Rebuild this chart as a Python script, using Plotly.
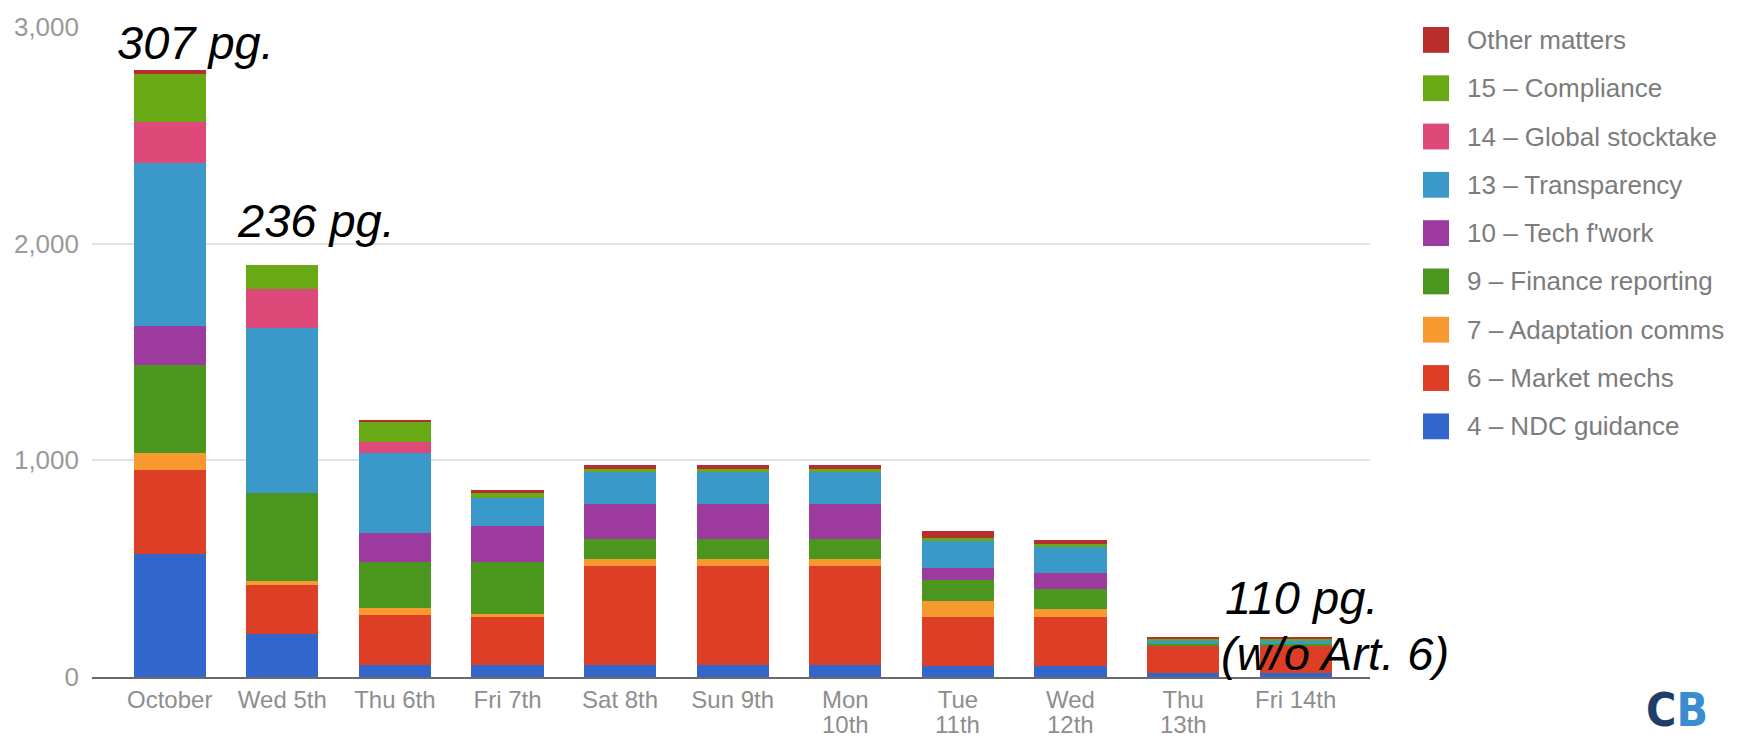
import plotly.graph_objects as go

# Draft-text pages per negotiating item, by day
days = ["October", "Wed 5th", "Thu 6th", "Fri 7th", "Sat 8th", "Sun 9th",
        "Mon 10th", "Tue 11th", "Wed 12th", "Thu 13th", "Fri 14th"]
tick_top = ["October", "Wed 5th", "Thu 6th", "Fri 7th", "Sat 8th", "Sun 9th",
            "Mon", "Tue", "Wed", "Thu", "Fri 14th"]
tick_bottom = ["", "", "", "", "", "", "10th", "11th", "12th", "13th", ""]
y_ticks = [0, 1000, 2000, 3000]

ndc_guidance = [566, 199, 54, 54, 54, 54, 54, 52, 52, 18, 18]
market_mechs = [389, 227, 231, 225, 459, 459, 459, 226, 226, 128, 128]
adaptation_comms = [80, 17, 33, 11, 32, 32, 32, 74, 37, 0, 0]
finance_reporting = [406, 408, 211, 240, 93, 93, 93, 94, 92, 8, 8]
tech_framework = [179, 0, 134, 166, 160, 160, 160, 59, 71, 0, 0]
transparency = [754, 762, 372, 130, 147, 147, 147, 123, 126, 12, 12]
global_stocktake = [186, 180, 49, 0, 0, 0, 0, 0, 0, 0, 0]
compliance = [221, 108, 91, 22, 13, 13, 13, 12, 8, 10, 10]
other_matters = [21, 0, 13, 17, 20, 20, 20, 32, 19, 7, 7]

series_names = ["4 – NDC guidance", "6 – Market mechs", "7 – Adaptation comms",
                "9 – Finance reporting", "10 – Tech f'work", "13 – Transparency",
                "14 – Global stocktake", "15 – Compliance", "Other matters"]
series_values = [ndc_guidance, market_mechs, adaptation_comms, finance_reporting,
                 tech_framework, transparency, global_stocktake, compliance, other_matters]
series_colors = ["#3366cc", "#dc3f26", "#f7992e", "#4b961e", "#9c3b9d",
                 "#3a99c9", "#dd4a7a", "#68a915", "#b82e2e"]

# Page-count callouts: (text, x position in category units, y value)
page_notes = [("307 pg.", -0.49, 2928),
              ("236 pg.", 0.58, 2107),
              ("110 pg.", 9.35, 369),
              ("(w/o Art. 6)", 9.32, 107)]

FONT = "Liberation Sans, Arial, Helvetica, sans-serif"
AXIS_GREY = "#8e8e8e"

fig = go.Figure()
for name, vals, col in zip(series_names, series_values, series_colors):
    fig.add_trace(go.Bar(x=days, y=vals, name=name, marker_color=col,
                         marker_line_width=0, showlegend=False))

# Plot area geometry (pixels) used for the hand-built legend
W, H = 1746, 739
ML, MR, MT, MB = 92, 376, 23, 62
PW, PH = W - ML - MR, H - MT - MB


def px_to_paper_x(px):
    return (px - ML) / PW


def px_to_paper_y(py):
    return (H - MB - py) / PH


annotations = []
shapes = []

# Legend: top entry is the last stacked series
for i, (name, col) in enumerate(zip(series_names[::-1], series_colors[::-1])):
    cy = 36 + 48.6 * i
    shapes.append(dict(type="rect", xref="paper", yref="paper",
                       x0=px_to_paper_x(1423), x1=px_to_paper_x(1449),
                       y0=px_to_paper_y(cy + 13), y1=px_to_paper_y(cy - 13),
                       fillcolor=col, line_width=0))
    annotations.append(dict(text=name, xref="paper", yref="paper",
                            x=px_to_paper_x(1465), y=px_to_paper_y(cy),
                            xanchor="left", yanchor="middle", showarrow=False,
                            font=dict(family=FONT, size=26, color="#7c7c7c")))

# Second line of the two-line day labels
for day, low in zip(days, tick_bottom):
    if low:
        annotations.append(dict(text=low, x=day, xref="x", yref="paper",
                                y=px_to_paper_y(725), yanchor="middle",
                                showarrow=False,
                                font=dict(family=FONT, size=24, color=AXIS_GREY)))

for text, xpos, yval in page_notes:
    annotations.append(dict(text="<i>" + text + "</i>", x=xpos, y=yval,
                            xref="x", yref="y", xanchor="left", yanchor="middle",
                            align="left", showarrow=False,
                            font=dict(family=FONT, size=47, color="#000000")))

# CB logo
annotations.append(dict(
    text="<b><span style='color:#1f3d66'>C</span><span style='color:#3a8dd0'>B</span></b>",
    xref="paper", yref="paper", x=px_to_paper_x(1677), y=px_to_paper_y(710),
    xanchor="center", yanchor="middle", showarrow=False,
    font=dict(family="Liberation Sans Narrow, DejaVu Sans Condensed, sans-serif", size=46)))

fig.update_layout(
    width=W, height=H,
    margin=dict(l=ML, r=MR, t=MT, b=MB),
    barmode="stack", bargap=0.36,
    plot_bgcolor="white", paper_bgcolor="white",
    font=dict(family=FONT),
    annotations=annotations, shapes=shapes,
    showlegend=False,
)
fig.update_xaxes(
    type="category", range=[-0.69, 10.66],
    tickmode="array", tickvals=days, ticktext=tick_top,
    tickfont=dict(family=FONT, size=24, color=AXIS_GREY),
    showline=True, linecolor="#6a6a6a", linewidth=2,
    showgrid=False, ticks="", ticklabelstandoff=0,
)
fig.update_yaxes(
    range=[0, 3000], tickvals=y_ticks, tickformat=",",
    tickfont=dict(family=FONT, size=26, color="#9a9a9a"),
    showgrid=True, gridcolor="#e2e2e2", gridwidth=2,
    zeroline=False, ticks="", ticklabelstandoff=12,
)

fig.write_html("out.html")
